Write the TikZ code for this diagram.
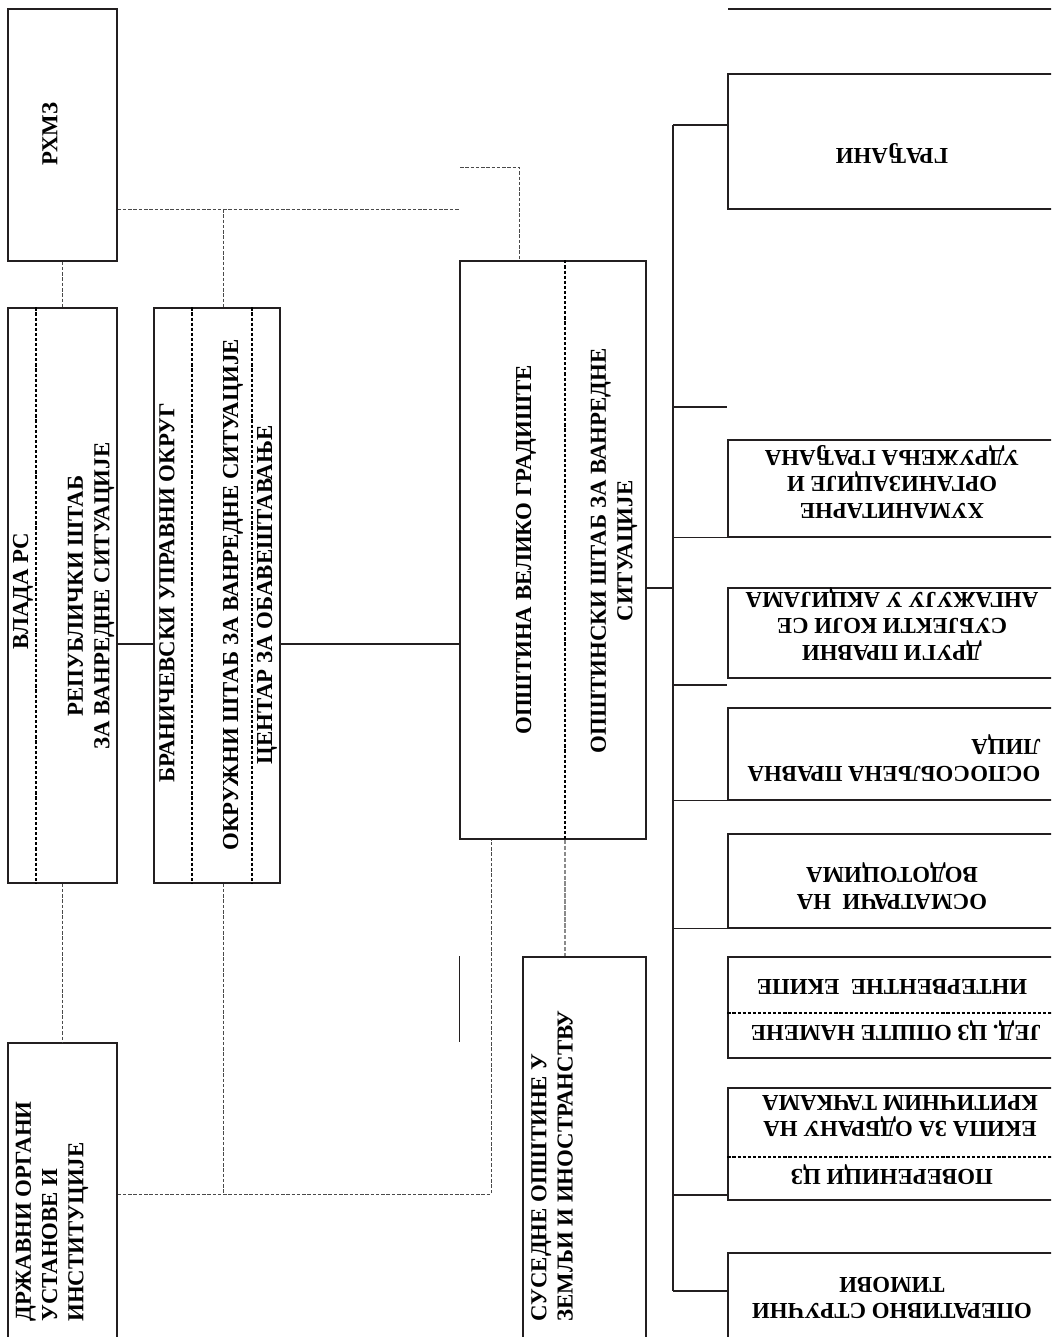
\documentclass[tikz,border=0pt]{standalone}
\usepackage{fontspec}
\setmainfont{Liberation Serif}
\usetikzlibrary{fit}
\definecolor{ink}{HTML}{231F20}
\definecolor{dashgrey}{HTML}{4A4A4A}
\definecolor{lightgrey}{HTML}{8A8A8A}
\tikzset{
  box/.style={draw=ink, line width=0.75pt, inner sep=0pt},
  link/.style={draw=ink, line width=0.75pt},
  dlink/.style={draw=dashgrey, line width=0.4pt, dash pattern=on 2pt off 1pt},
  greylink/.style={draw=lightgrey, line width=0.8pt, dash pattern=on 2.4pt off 1pt},
  divider/.style={draw=black, line width=0.8pt, dash pattern=on 1.8pt off 1.1pt},
  txt/.style={font=\fontsize{13}{15}\selectfont\bfseries, text=black, inner sep=0pt, align=center},
  up/.style={txt, rotate=90},
  flip/.style={txt, rotate=180},
}

\begin{document}
\begin{tikzpicture}[x=0.02cm, y=-0.02cm]
\useasboundingbox (0,0) rectangle (1051,1337);
\clip (0,0) rectangle (1051,1337);

% left column
\node[box, fit={(8,9) (117,261)}] (rhmz) {};
\node[box, fit={(8,308) (117,883)}] (vlada) {};
\node[box, fit={(8,1043) (117,1400)}] (drzavni) {};
% middle
\node[box, fit={(154,308) (280,883)}] (branic) {};
\node[box, fit={(460,261) (646,839)}] (opstina) {};
\node[box, fit={(523,957) (646,1400)}] (susedne) {};
% right column
\node[box, fit={(728,74) (1100,209)}] (gradjani) {};
\node[box, fit={(728,440) (1100,537)}] (hum) {};
\node[box, fit={(728,588) (1100,678)}] (drugi) {};
\node[box, fit={(728,708) (1100,800)}] (osp) {};
\node[box, fit={(728,834) (1100,928)}] (osm) {};
\node[box, fit={(728,957) (1100,1058)}] (inter) {};
\node[box, fit={(728,1088) (1100,1200)}] (ekipa) {};
\node[box, fit={(728,1253) (1100,1400)}] (oper) {};
\coordinate (topL) at (728,9);
\coordinate (topR) at (1100,9);
\draw[link] (topL) -- (topR);

% dividers inside boxes
\draw[divider] (vlada.north -| 36,0) -- (vlada.south -| 36,0);
\draw[divider, line width=1.1pt] (branic.north -| 192,0) -- (branic.south -| 192,0);
\draw[divider] (branic.north -| 252,0) -- (branic.south -| 252,0);
\draw[divider] (opstina.north -| 565,0) -- (opstina.south -| 565,0);
\draw[divider] (inter.west |- 0,1013) -- (inter.east |- 0,1013);
\draw[divider] (ekipa.west |- 0,1157) -- (ekipa.east |- 0,1157);

% texts
\node[up] (rhmzT) at (50,134) {РХМЗ};
\node[up] (vladaT) at (23,591) {ВЛАДА РС};
\node[up] (repT) at (91,596) {РЕПУБЛИЧКИ ШТАБ\\ЗА ВАНРЕДНЕ СИТУАЦИЈЕ};
\node[up] (branT) at (167,593) {БРАНИЧЕВСКИ УПРАВНИ ОКРУГ};
\node[up] (okrT) at (233,595) {ОКРУЖНИ ШТАБ ЗА ВАНРЕДНЕ СИТУАЦИЈЕ};
\node[up] (centT) at (267,595) {ЦЕНТАР ЗА ОБАВЕШТАВАЊЕ};
\node[up] (opsT) at (526,550) {ОПШТИНА ВЕЛИКО ГРАДИШТЕ};
\node[up] (opsShT) at (614,551) {ОПШТИНСКИ ШТАБ ЗА ВАНРЕДНЕ\\СИТУАЦИЈЕ};
\node[up, align=left, anchor=west] (drzT) at (52,1322) {ДРЖАВНИ ОРГАНИ\\УСТАНОВЕ И\\ИНСТИТУЦИЈЕ};
\node[up, align=left, anchor=west] (susT) at (552,1322) {СУСЕДНЕ ОПШТИНЕ У\\ЗЕМЉИ И ИНОСТРАНСТВУ};

\node[flip] (gradT) at (892,154) {ГРАЂАНИ};
\node[flip] (humT) at (892,482) {ХУМАНИТАРНЕ\\ОРГАНИЗАЦИЈЕ И\\УДРУЖЕЊА ГРАЂАНА};
\node[flip] (drugiT) at (892,624) {ДРУГИ ПРАВНИ\\СУБЈЕКТИ КОЈИ СЕ\\АНГАЖУЈУ У АКЦИЈАМА};
\node[flip, align=left] (ospT) at (894,758) {ОСПОСОБЉЕНА ПРАВНА\\ЛИЦА};
\node[flip] (osmT) at (892,886) {ОСМАТРАЧИ\ \ НА\\ВОДОТОЦИМА};
\node[flip] (intT) at (892,987) {ИНТЕРВЕНТНЕ\ \ ЕКИПЕ};
\node[flip] (jedT) at (896,1031) {ЈЕД. ЦЗ ОПШТЕ НАМЕНЕ};
\node[flip] (ekT) at (900,1116) {ЕКИПА ЗА ОДБРАНУ НА\\КРИТИЧНИМ ТАЧКАМА};
\node[flip] (povT) at (892,1175) {ПОВЕРЕНИЦИ ЦЗ};
\node[flip] (opT) at (892,1298) {ОПЕРАТИВНО СТРУЧНИ\\ТИМОВИ};

% upper dashed links
\coordinate (hub) at (460,209);
\coordinate (bTap) at (223,209);
\coordinate (topHook) at (460,167);
\draw[dlink] (rhmz.south) -- (vlada.north);
\draw[dlink] (rhmz.east |- hub) -- (hub);
\draw[dlink] (bTap) -- (branic.north -| bTap);
\draw[dlink] (topHook) -| (opstina.north -| 519,0);

% main line
\coordinate (mainY) at (0,644);
\draw[link] (vlada.east |- mainY) -- (branic.west |- mainY);
\draw[link] (branic.east |- mainY) -- (opstina.west |- mainY);

% lower dashed links
\coordinate (lowY) at (0,1194);
\draw[dlink] (vlada.south) -- (drzavni.north);
\draw[dlink] (branic.south -| bTap) -- (bTap |- lowY);
\draw[dlink] (drzavni.east |- lowY) -| (opstina.south -| 491,0);
\draw[greylink] (opstina.south -| 565,0) -- (susedne.north -| 565,0);
\draw[link] (opstina.west |- susedne.north) -- (opstina.west |- drzavni.north);

% trunk to the right column
\coordinate (tTop) at (673,125);
\coordinate (tBot) at (673,1291);
\draw[link] (opstina.east |- 0,588) -- (tTop |- 0,588);
\draw[link] (tTop) -- (tBot);
\draw[link] (tTop) -- (gradjani.west |- tTop);
\draw[link] (tTop |- 0,407) -- (gradjani.west |- 0,407);
\draw[link] (tTop |- hum.south) -- (hum.south west);
\draw[link] (tTop |- 0,685) -- (drugi.west |- 0,685);
\draw[link] (tTop |- osp.south) -- (osp.south west);
\draw[link] (tTop |- osm.south) -- (osm.south west);
\draw[link] (tTop |- 0,1195) -- (ekipa.west |- 0,1195);
\draw[link] (tBot) -- (oper.west |- tBot);
\end{tikzpicture}
\end{document}
